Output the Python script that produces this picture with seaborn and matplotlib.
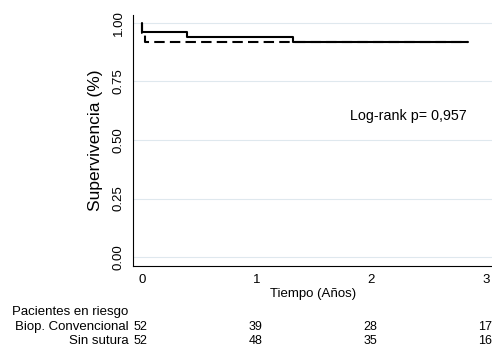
import numpy as np
import pandas as pd
import matplotlib
matplotlib.use("Agg")
import matplotlib.pyplot as plt
import matplotlib.transforms as mtransforms
import seaborn as sns

# ── Data ──────────────────────────────────────────────────────────────────────
grupos = ["Biop. Convencional", "Sin sutura"]
tiempo_conv = [0.0, 0.005, 0.39, 1.32, 2.84]
surv_conv = [1.0, 0.96, 0.94, 0.92, 0.92]
tiempo_sin = [0.0, 0.005, 0.03, 2.84]
surv_sin = [1.0, 0.955, 0.92, 0.92]

riesgo_tiempos = [0, 1, 2, 3]
riesgo_conv = [52, 39, 28, 17]
riesgo_sin = [52, 48, 35, 16]

y_ticks = [0.00, 0.25, 0.50, 0.75, 1.00]
x_ticks = [0, 1, 2, 3]
p_texto = "Log-rank p= 0,957"

df = pd.concat([
    pd.DataFrame({"tiempo": tiempo_conv, "surv": surv_conv, "grupo": grupos[0]}),
    pd.DataFrame({"tiempo": tiempo_sin, "surv": surv_sin, "grupo": grupos[1]}),
], ignore_index=True)

sns.set_theme(style="white")
plt.rcParams["font.family"] = ["Liberation Sans", "DejaVu Sans"]
plt.rcParams["text.color"] = "black"
plt.rcParams["axes.labelcolor"] = "black"
plt.rcParams["xtick.color"] = "black"
plt.rcParams["ytick.color"] = "black"

fig = plt.figure(figsize=(4.92, 3.46), dpi=100)
ax = fig.add_axes([0.271, 0.231, 0.729, 0.726])

sns.lineplot(
    data=df, x="tiempo", y="surv", style="grupo", hue="grupo",
    palette=["black", "black"], dashes={grupos[0]: "", grupos[1]: (5, 2.5)},
    drawstyle="steps-post", estimator=None, linewidth=1.5, legend=False, ax=ax,
)

ax.set_xlim(-0.073, 3.05)
ax.set_ylim(-0.038, 1.034)
ax.set_xticks(x_ticks)
ax.set_yticks(y_ticks)
ax.set_yticklabels([f"{v:.2f}" for v in y_ticks], rotation=90, va="center")
ax.tick_params(axis="both", direction="out", length=3, width=0.8, color="black",
               labelsize=9.5, pad=3)
ax.yaxis.grid(True, color="#dfe8ee", linewidth=0.8)
ax.xaxis.grid(False)

for s in ["top", "right"]:
    ax.spines[s].set_visible(False)
for s in ["left", "bottom"]:
    ax.spines[s].set_color("black")
    ax.spines[s].set_linewidth(0.8)

ax.set_xlabel("Tiempo (Años)", fontsize=9.5, labelpad=1)
ax.set_ylabel("Supervivencia (%)", fontsize=12.5, labelpad=7)

ax.text(1.81, 0.603, p_texto, fontsize=10.3, ha="left", va="center")

# ── Tabla de pacientes en riesgo ─────────────────────────────────────────────
trans = mtransforms.blended_transform_factory(ax.transData, fig.transFigure)
fs = 9.5
fs_num = 9
fig.text(0.024, 0.099, "Pacientes en riesgo", fontsize=fs, ha="left", va="center")
fig.text(0.261, 0.0558, grupos[0], fontsize=fs, ha="right", va="center")
fig.text(0.261, 0.0153, grupos[1], fontsize=fs, ha="right", va="center")
for t, a, b in zip(riesgo_tiempos, riesgo_conv, riesgo_sin):
    ax.text(t - 0.012, 0.0558, str(a), fontsize=fs_num, ha="center", va="center", transform=trans)
    ax.text(t - 0.012, 0.0153, str(b), fontsize=fs_num, ha="center", va="center", transform=trans)

fig.savefig("out.png", dpi=100)
